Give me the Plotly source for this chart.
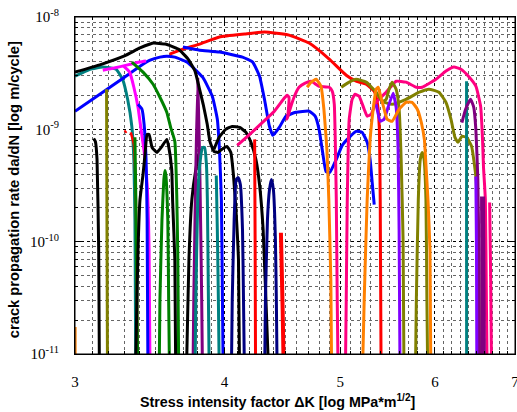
import plotly.graph_objects as go

# ---- data: stress intensity factor dK [MPa*m^1/2] and crack growth rate da/dN [m/cycle]
BOTTOM = 5e-12  # curves that run off the bottom of the chart

black_main_k = [3.00, 3.147, 3.30, 3.40, 3.467, 3.49, 3.57, 3.66, 3.73, 3.78, 3.81, 3.84, 3.87, 3.89, 3.92, 3.95, 3.99, 4.02, 4.05, 4.07, 4.09, 4.11, 4.12]
black_main_r = [3.23e-9, 3.75e-9, 4.5e-9, 5.3e-9, 5.75e-9, 5.86e-9, 5.74e-9, 5.18e-9, 4.22e-9, 3.30e-9, 2.37e-9, 1.67e-9, 1.11e-9, 7.8e-10, 6.37e-10, 6.23e-10, 6.76e-10, 7.05e-10, 6.23e-10, 3.97e-10, 1.93e-10, 6.9e-11, BOTTOM]
black_bump_k = [3.92, 3.96, 4.01, 4.06, 4.12, 4.17, 4.21, 4.25, 4.28, 4.31, 4.35, 4.36]
black_bump_r = [6.62e-10, 8.49e-10, 1.0e-9, 1.06e-9, 1.04e-9, 9.4e-10, 7.66e-10, 5.4e-10, 3.23e-10, 1.28e-10, 1.0e-11, BOTTOM]
black_spike_k = [3.11, 3.12, 3.13, 3.14, 3.145]
black_spike_r = [8.3e-10, 7.8e-10, 5.4e-10, 8.5e-11, BOTTOM]
black_wiggle_k = [3.367, 3.373, 3.387, 3.40, 3.42, 3.433, 3.447, 3.46, 3.48, 3.513, 3.547, 3.58, 3.593, 3.614, 3.621, 3.636, 3.643]
black_wiggle_r = [BOTTOM, 1.0e-11, 8.5e-11, 2.37e-10, 3.97e-10, 5.98e-10, 9.02e-10, 9.02e-10, 6.9e-10, 6.23e-10, 7.05e-10, 8.14e-10, 7.05e-10, 4.4e-10, 2.23e-10, 6.9e-11, BOTTOM]
black_rise_k = [3.714, 3.721, 3.736, 3.757, 3.786, 3.814, 3.836]
black_rise_r = [BOTTOM, 1.0e-11, 6.9e-11, 2.37e-10, 4.4e-10, 6.37e-10, 6.62e-10]

blue_left_k = [3.00, 3.147, 3.30, 3.40, 3.467, 3.533, 3.58, 3.636, 3.721, 3.836, 3.908, 3.946, 3.962, 3.977, 3.985, 3.992]
blue_left_r = [1.45e-9, 2.05e-9, 2.91e-9, 3.65e-9, 4.13e-9, 4.39e-9, 4.48e-9, 4.39e-9, 3.97e-9, 2.91e-9, 1.97e-9, 1.23e-9, 6.62e-10, 2.37e-10, 3.03e-11, BOTTOM]
blue_right_k = [3.693, 3.814, 3.962, 4.142, 4.224, 4.28, 4.321, 4.363, 4.392, 4.446, 4.504, 4.591, 4.709, 4.764, 4.80, 4.836, 4.864, 4.90, 4.962, 5.019, 5.087, 5.155, 5.215, 5.266, 5.296, 5.317, 5.338]
blue_right_r = [5.40e-9, 5.07e-9, 4.87e-9, 4.39e-9, 3.97e-9, 2.97e-9, 1.85e-9, 1.06e-9, 8.84e-10, 1.04e-9, 1.31e-9, 1.42e-9, 1.45e-9, 1.31e-9, 1.0e-9, 5.98e-10, 4.22e-10, 4.13e-10, 5.4e-10, 7.2e-10, 8.49e-10, 9.6e-10, 9.4e-10, 7.66e-10, 5.4e-10, 3.37e-10, 2.14e-10]
blue_spike_k = [3.387, 3.413, 3.427, 3.44, 3.447, 3.453]
blue_spike_r = [1.67e-9, 1.51e-9, 1.11e-9, 5.4e-10, 1.57e-10, BOTTOM]

red_arc_k = [3.60, 3.693, 3.814, 3.962, 4.159, 4.321, 4.53, 4.709, 4.895, 5.058, 5.155, 5.256, 5.338, 5.369, 5.39, 5.40, 5.41]
red_arc_r = [4.67e-9, 5.18e-9, 5.74e-9, 6.63e-9, 7.05e-9, 7.35e-9, 6.9e-9, 5.86e-9, 4.22e-9, 3.03e-9, 2.68e-9, 2.52e-9, 2.18e-9, 1.74e-9, 1.06e-9, 2.37e-10, BOTTOM]
red_dot_k = [3.30, 3.313]
red_dot_r = [9.8e-10, 9.3e-10]
red_a_k = [3.34, 3.36, 3.373, 3.38, 3.387]
red_a_r = [9.4e-10, 7.35e-10, 2.37e-10, 3.03e-11, BOTTOM]
red_b_k = [4.24, 4.244, 4.248]
red_b_r = [8.14e-10, 1.0e-10, BOTTOM]
red_c_k = [4.46, 4.475, 4.487]
red_c_r = [1.2e-10, 2.5e-11, BOTTOM]

magenta_top_k = [3.165, 3.235, 3.313, 3.40, 3.44]
magenta_top_r = [3.36e-9, 3.51e-9, 3.73e-9, 3.97e-9, 4.05e-9]
magenta_drop_k = [3.294, 3.333, 3.36, 3.387, 3.407, 3.427, 3.447, 3.46, 3.467]
magenta_drop_r = [3.65e-9, 3.23e-9, 2.37e-9, 1.57e-9, 1.0e-9, 6.37e-10, 3.23e-10, 8.5e-11, BOTTOM]

teal_main_k = [3.00, 3.088, 3.165, 3.247, 3.288, 3.32, 3.347, 3.36, 3.367, 3.37, 3.373]
teal_main_r = [2.97e-9, 3.43e-9, 3.58e-9, 3.43e-9, 2.79e-9, 1.85e-9, 1.06e-9, 5.4e-10, 1.57e-10, 3.03e-11, BOTTOM]
teal_arch_k = [3.779, 3.786, 3.80, 3.815, 3.836, 3.85, 3.864, 3.871, 3.879, 3.886]
teal_arch_r = [BOTTOM, 3.03e-11, 2.37e-10, 4.87e-10, 6.9e-10, 6.9e-10, 4.87e-10, 2.37e-10, 3.03e-11, BOTTOM]
teal_spike_k = [3.938, 3.946, 3.954, 3.962]
teal_spike_r = [3.88e-10, 1.28e-10, 3.03e-11, BOTTOM]
teal_right_k = [6.377, 6.377, 6.378]
teal_right_r = [2.68e-9, 2.37e-10, BOTTOM]

olive_left_k = [3.188, 3.19, 3.194]
olive_left_r = [2.28e-9, 2.37e-10, BOTTOM]
olive_main_k = [5.01, 5.087, 5.155, 5.256, 5.358, 5.421, 5.525, 5.675, 5.822, 5.931, 6.047, 6.129, 6.188, 6.236, 6.272, 6.32, 6.377, 6.439, 6.492, 6.517, 6.529, 6.54]
olive_main_r = [2.37e-9, 2.63e-9, 2.79e-9, 2.63e-9, 2.14e-9, 1.78e-9, 1.67e-9, 1.85e-9, 2.14e-9, 2.28e-9, 2.14e-9, 1.74e-9, 1.23e-9, 8.49e-10, 7.66e-10, 8.66e-10, 8.49e-10, 7.05e-10, 3.8e-10, 1.57e-10, 6.9e-11, BOTTOM]
olive_peak_k = [5.431, 5.462, 5.493, 5.525, 5.568, 5.60, 5.622, 5.643, 5.654]
olive_peak_r = [1.78e-9, 1.85e-9, 2.28e-9, 2.63e-9, 2.28e-9, 1.51e-9, 5.4e-10, 1.04e-10, BOTTOM]
olive_arch_k = [5.777, 5.789, 5.811, 5.833, 5.855, 5.876, 5.897, 5.908, 5.919]
olive_arch_r = [BOTTOM, 3.03e-11, 2.37e-10, 5.4e-10, 6.23e-10, 5.4e-10, 2.37e-10, 3.03e-11, BOTTOM]

orange_a_k = [4.691, 4.727, 4.773, 4.818, 4.845, 4.873, 4.891, 4.91, 4.919]
orange_a_r = [2.37e-9, 2.63e-9, 2.79e-9, 2.42e-9, 1.51e-9, 6.62e-10, 2.37e-10, 4.58e-11, BOTTOM]
orange_b_k = [5.215, 5.236, 5.266, 5.296, 5.327, 5.358, 5.379, 5.40, 5.441, 5.472, 5.525, 5.60, 5.675, 5.742, 5.80, 5.845, 5.879, 5.90, 5.92, 5.943, 5.954]
orange_b_r = [BOTTOM, 3.03e-11, 2.37e-10, 8.14e-10, 1.51e-9, 2.28e-9, 2.37e-9, 2.05e-9, 1.51e-9, 1.23e-9, 1.18e-9, 1.51e-9, 1.74e-9, 1.74e-9, 1.51e-9, 1.15e-9, 8.14e-10, 4.4e-10, 2.37e-10, 8.5e-11, BOTTOM]
orange_edge_k = [3.005, 3.005]
orange_edge_r = [1.74e-11, BOTTOM]

pink_a_k = [4.10, 4.20, 4.296, 4.404, 4.488, 4.513, 4.53, 4.521, 4.513, 4.539, 4.574, 4.618, 4.673, 4.727, 4.80, 4.895, 4.924, 4.943, 4.952, 4.962, 4.971, 4.981]
pink_a_r = [7.2e-10, 9.02e-10, 1.13e-9, 1.45e-9, 1.89e-9, 2.01e-9, 1.93e-9, 1.36e-9, 1.23e-9, 1.51e-9, 1.93e-9, 2.37e-9, 2.58e-9, 2.68e-9, 2.42e-9, 2.37e-9, 2.18e-9, 1.67e-9, 8.14e-10, 2.37e-10, 3.03e-11, BOTTOM]
pink_b_k = [5.048, 5.058, 5.068, 5.087, 5.116, 5.145, 5.185, 5.236, 5.266, 5.306, 5.358, 5.462, 5.568, 5.675, 5.789, 5.855, 6.012, 6.129, 6.224, 6.308, 6.40, 6.492, 6.552, 6.576, 6.588, 6.612, 6.625, 6.637]
pink_b_r = [BOTTOM, 3.03e-11, 2.37e-10, 1.23e-9, 1.85e-9, 2.05e-9, 1.97e-9, 1.51e-9, 1.31e-9, 1.36e-9, 1.74e-9, 2.14e-9, 2.68e-9, 2.63e-9, 2.37e-9, 2.37e-9, 2.79e-9, 3.30e-9, 3.58e-9, 3.43e-9, 2.97e-9, 2.42e-9, 1.60e-9, 8.14e-10, 4.67e-10, 2.37e-10, 3.03e-11, BOTTOM]
pink_c_k = [6.667, 6.68, 6.693]
pink_c_r = [2.23e-10, 4.58e-11, BOTTOM]

green_main_k = [3.347, 3.42, 3.487, 3.533, 3.58, 3.607, 3.636, 3.65, 3.657, 3.664]
green_main_r = [3.97e-9, 3.23e-9, 2.52e-9, 1.93e-9, 1.42e-9, 1.04e-9, 7.8e-10, 2.37e-10, 6.9e-11, BOTTOM]
green_arch_k = [3.527, 3.533, 3.547, 3.56, 3.567, 3.573, 3.587, 3.593, 3.60]
green_arch_r = [BOTTOM, 3.03e-11, 1.57e-10, 3.58e-10, 4.31e-10, 3.97e-10, 1.57e-10, 3.03e-11, BOTTOM]
green_spike_k = [3.367, 3.373, 3.38, 3.387]
green_spike_r = [8.49e-10, 2.37e-10, 3.03e-11, BOTTOM]

purple_arch_k = [3.764, 3.771, 3.786, 3.80, 3.815, 3.829, 3.836]
purple_arch_r = [BOTTOM, 3.03e-11, 4.4e-10, 2.79e-9, 4.4e-10, 3.03e-11, BOTTOM]
purple_right_k = [6.32, 6.365, 6.426, 6.466, 6.492, 6.517, 6.529, 6.54]
purple_right_r = [1.15e-9, 1.51e-9, 1.85e-9, 1.57e-9, 1.0e-9, 3.58e-10, 8.5e-11, BOTTOM]
purple_bar_k = [6.576, 6.588]
purple_bar_r = [2.52e-10, BOTTOM]

violet_a_k = [5.358, 5.40, 5.441, 5.482, 5.536, 5.568, 5.589, 5.60, 5.611]
violet_a_r = [1.67e-9, 1.18e-9, 1.23e-9, 1.57e-9, 2.10e-9, 1.57e-9, 6.62e-10, 1.28e-10, BOTTOM]
violet_b_k = [6.492, 6.50, 6.505]
violet_b_r = [3.8e-10, 8.5e-11, BOTTOM]

navy_a_k = [4.053, 4.061, 4.076, 4.092, 4.108, 4.125, 4.142, 4.15, 4.159]
navy_a_r = [BOTTOM, 3.03e-11, 1.57e-10, 3.58e-10, 3.72e-10, 3.23e-10, 1.28e-10, 3.03e-11, BOTTOM]
navy_b_k = [4.321, 4.329, 4.346, 4.363, 4.379, 4.396, 4.413, 4.421, 4.429]
navy_b_r = [BOTTOM, 3.03e-11, 1.57e-10, 2.91e-10, 3.58e-10, 2.91e-10, 1.04e-10, 3.03e-11, BOTTOM]

x_ticks = [3, 4, 5, 6, 7]
y_ticks = [1e-11, 1e-10, 1e-9, 1e-8]
y_tick_text = ["10<sup>-11</sup>", "10<sup>-10</sup>", "10<sup>-9</sup>", "10<sup>-8</sup>"]
x_title = "<b>Stress intensity factor \u0394K [log MPa*m<sup>1/2</sup>]</b>"
y_title = "<b>crack propagation rate da/dN [log m/cycle]</b>"

BLACK, BLUE, RED, MAGENTA = "#000000", "#0000ff", "#ff0000", "#ff00ff"
TEAL, OLIVE, GREEN, PURPLE = "#008080", "#808000", "#008000", "#800080"
VIOLET, NAVY, ORANGE, PINK = "#8000ff", "#000080", "#ff8000", "#ff0080"

series = [
    (orange_edge_k, orange_edge_r, ORANGE, 1.5),
    (teal_main_k, teal_main_r, TEAL, 3),
    (blue_left_k, blue_left_r, BLUE, 3),
    (black_spike_k, black_spike_r, BLACK, 3),
    (olive_left_k, olive_left_r, OLIVE, 3),
    (magenta_top_k, magenta_top_r, MAGENTA, 3),
    (magenta_drop_k, magenta_drop_r, MAGENTA, 3),
    (red_dot_k, red_dot_r, RED, 2),
    (red_a_k, red_a_r, RED, 2.5),
    (green_spike_k, green_spike_r, GREEN, 3),
    (blue_spike_k, blue_spike_r, BLUE, 3),
    (green_main_k, green_main_r, GREEN, 3),
    (green_arch_k, green_arch_r, GREEN, 3),
    (black_wiggle_k, black_wiggle_r, BLACK, 3),
    (black_rise_k, black_rise_r, BLACK, 3),
    (purple_arch_k, purple_arch_r, PURPLE, 3),
    (teal_arch_k, teal_arch_r, TEAL, 3),
    (teal_spike_k, teal_spike_r, TEAL, 3),
    (red_arc_k, red_arc_r, RED, 3),
    (black_main_k, black_main_r, BLACK, 3),
    (blue_right_k, blue_right_r, BLUE, 3),
    (black_bump_k, black_bump_r, BLACK, 3),
    (navy_a_k, navy_a_r, NAVY, 3),
    (navy_b_k, navy_b_r, NAVY, 3),
    (red_b_k, red_b_r, RED, 3),
    (red_c_k, red_c_r, RED, 4),
    (pink_a_k, pink_a_r, PINK, 3),
    (orange_a_k, orange_a_r, ORANGE, 3),
    (pink_b_k, pink_b_r, PINK, 3),
    (olive_main_k, olive_main_r, OLIVE, 3),
    (olive_peak_k, olive_peak_r, OLIVE, 3),
    (olive_arch_k, olive_arch_r, OLIVE, 3),
    (violet_a_k, violet_a_r, VIOLET, 3),
    (orange_b_k, orange_b_r, ORANGE, 3),
    (teal_right_k, teal_right_r, TEAL, 3),
    (purple_right_k, purple_right_r, PURPLE, 3),
    (violet_b_k, violet_b_r, VIOLET, 3),
    (purple_bar_k, purple_bar_r, PURPLE, 5),
    (pink_c_k, pink_c_r, PINK, 3),
]

fig = go.Figure()
for k, r, color, w in series:
    fig.add_trace(go.Scatter(
        x=k, y=r, mode="lines",
        line=dict(color=color, width=w, shape="spline", smoothing=0.4),
        showlegend=False, hoverinfo="skip",
    ))

axis_common = dict(
    showline=True, linecolor="black", linewidth=1, mirror="allticks",
    ticks="inside", ticklen=6, tickcolor="black",
    showgrid=True, gridcolor="#000000", gridwidth=1, griddash="dot",
    zeroline=False, automargin=False, ticklabeloverflow="allow",
)

x_minor = [round(3 + 0.1 * i, 1) for i in range(1, 40) if i % 10 != 0]
y_minor = [m * 10.0 ** e for e in (-11, -10, -9) for m in range(2, 10)]

fig.update_xaxes(
    type="log", range=[0.47712, 0.84512],
    tickvals=x_ticks, ticktext=[str(v) for v in x_ticks],
    tickfont=dict(family="Liberation Serif", size=15, color="black"),
    ticklabelstandoff=14,
    minor=dict(tickvals=x_minor, ticks="inside", ticklen=3, tickcolor="black",
               showgrid=True, gridcolor="#666666", griddash="dot", gridwidth=1),
    **axis_common,
)
fig.update_yaxes(
    type="log", range=[-11, -8],
    tickvals=y_ticks, ticktext=y_tick_text,
    tickfont=dict(family="Liberation Serif", size=15, color="black"),
    ticklabelstandoff=12,
    minor=dict(tickvals=y_minor, ticks="inside", ticklen=3, tickcolor="black",
               showgrid=True, gridcolor="#666666", griddash="dot", gridwidth=1),
    **axis_common,
)

fig.update_layout(
    width=517, height=412,
    margin=dict(l=75, r=2, t=17, b=58),
    paper_bgcolor="white", plot_bgcolor="white",
    shapes=[dict(type="rect", xref="paper", yref="paper", x0=0, x1=1, y0=0, y1=1,
                 line=dict(color="black", width=1), layer="above")],
    annotations=[
        dict(text=x_title, xref="paper", yref="paper", x=0.46, y=-0.138,
             xanchor="center", yanchor="middle", showarrow=False,
             font=dict(family="Liberation Sans", size=14.3, color="black")),
        dict(text=y_title, xref="paper", yref="paper", x=-0.138, y=0.487,
             xanchor="center", yanchor="middle", showarrow=False, textangle=-90,
             font=dict(family="Liberation Sans", size=14.7, color="black")),
    ],
)

fig.write_html("out.html", config={"displayModeBar": False},
               post_script="document.body.style.margin='0';document.body.style.padding='0';document.body.style.overflow='hidden';")
